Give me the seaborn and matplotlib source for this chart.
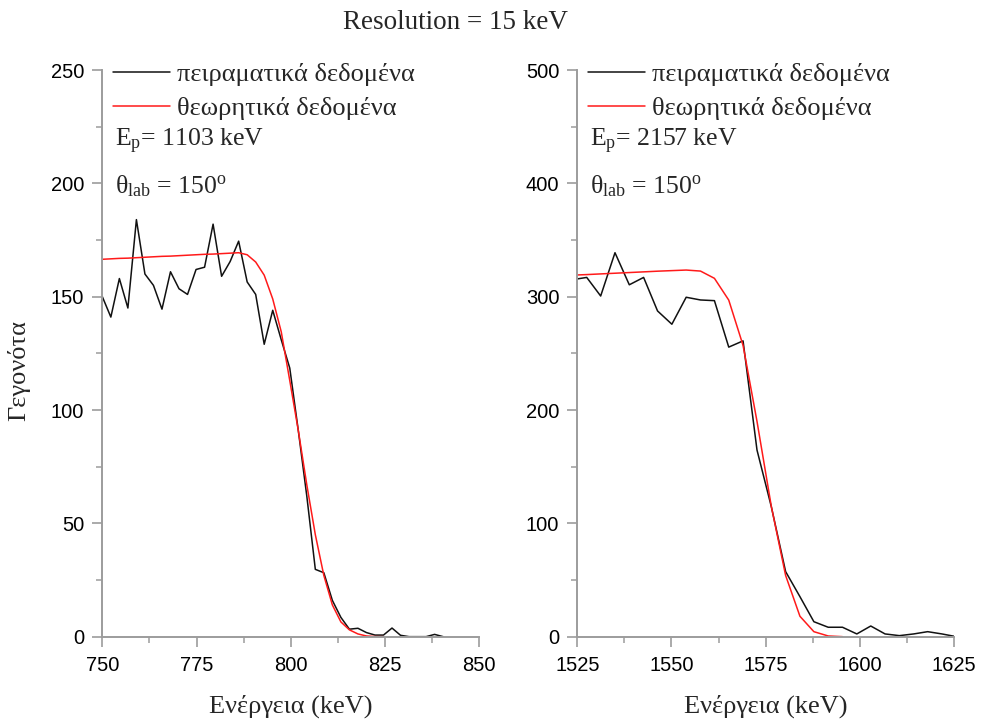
import matplotlib
matplotlib.use("Agg")
import matplotlib.pyplot as plt
import seaborn as sns
import pandas as pd
from matplotlib.ticker import AutoMinorLocator
from matplotlib.lines import Line2D

# ---------------- data ----------------
title_text = "Resolution = 15 keV"
legend_labels = ["πειραματικά δεδομένα", "θεωρητικά δεδομένα"]
x_label = "Ενέργεια (keV)"
y_label = "Γεγονότα"

# Left panel (Ep = 1103 keV)
left_exp_x = [750.0, 752.26, 754.52, 756.78, 759.04, 761.3, 763.56, 765.82, 768.08, 770.34,
              772.6, 774.86, 777.12, 779.38, 781.64, 783.9, 786.16, 788.42, 790.68, 792.94,
              795.2, 797.46, 799.72, 801.98, 804.24, 806.5, 808.76, 811.02, 813.28, 815.54,
              817.8, 820.06, 822.32, 824.58, 826.84, 829.1, 831.36, 833.62, 835.88, 838.14, 840.4]
left_exp_y = [150, 141, 158, 145, 184, 160, 155, 144.5, 161, 153.5,
              151, 162, 163, 182, 159, 165.5, 174.5, 156.5, 151, 129,
              144, 131, 118.5, 91, 62, 29.7, 28.2, 16, 8.5, 3.3,
              3.7, 1.8, 0.7, 0.7, 3.8, 0.6, 0, 0, 0, 1.0, 0]
left_th_x = [750.0, 752.26, 754.52, 756.78, 759.04, 761.3, 763.56, 765.82, 768.08, 770.34,
             772.6, 774.86, 777.12, 779.38, 781.64, 783.9, 786.16, 788.42, 790.68, 792.94,
             795.2, 797.46, 799.72, 801.98, 804.24, 806.5, 808.76, 811.02, 813.28, 815.54,
             817.8, 820.06, 822.32, 824.58]
left_th_y = [166.5, 166.7, 166.9, 167.0, 167.2, 167.4, 167.6, 167.8, 167.9, 168.1,
             168.3, 168.5, 168.7, 168.8, 169.0, 169.2, 169.4, 168.5, 165.3, 159.5,
             149, 134.5, 113, 91, 67, 45, 27, 14, 6.5, 3,
             1.2, 0.3, 0.05, 0]

# Right panel (Ep = 2157 keV)
right_exp_x = [1523.7, 1527.5, 1531.2, 1535.0, 1538.8, 1542.6, 1546.3, 1550.1, 1553.9, 1557.7,
               1561.4, 1565.2, 1569.0, 1572.7, 1576.5, 1580.3, 1584.1, 1587.8, 1591.6, 1595.4,
               1599.2, 1602.9, 1606.7, 1610.5, 1614.3, 1618.0, 1621.8, 1625.6]
right_exp_y = [315, 317, 300.6, 338.8, 310.5, 317, 287.4, 275.7, 299.5, 297.1,
               296.5, 255.5, 261, 164.7, 114.7, 57.4, 35.3, 13.2, 8.3, 8.3,
               2.4, 9.4, 2.4, 0.9, 2.4, 4.4, 2.4, 0]
right_th_x = [1523.7, 1527.5, 1531.2, 1535.0, 1538.8, 1542.6, 1546.3, 1550.1, 1553.9, 1557.7,
              1561.4, 1565.2, 1569.0, 1572.7, 1576.5, 1580.3, 1584.1, 1587.8, 1591.6, 1595.4]
right_th_y = [319, 319.5, 320.1, 320.7, 321.3, 321.9, 322.5, 323.0, 323.5, 322.6,
              316.2, 297, 257, 190, 115, 54, 18, 4.4, 0.6, 0]

left_xticks = [750, 775, 800, 825, 850]
left_yticks = [0, 50, 100, 150, 200, 250]
right_xticks = [1525, 1550, 1575, 1600, 1625]
right_yticks = [0, 100, 200, 300, 400, 500]

left_ep = r"$\mathrm{E_p}$= 1103 keV"
right_ep = r"$\mathrm{E_p}$= 2157 keV"
theta_txt = r"$\mathrm{θ_{lab}}$ = 150$^\mathrm{o}$"

# ---------------- style ----------------
sns.set_theme(style="white")
plt.rcParams["font.family"] = ["Liberation Sans", "DejaVu Sans"]
plt.rcParams["mathtext.fontset"] = "custom"
plt.rcParams["mathtext.rm"] = "Liberation Serif"
plt.rcParams["mathtext.it"] = "Liberation Serif:italic"
plt.rcParams["mathtext.bf"] = "Liberation Serif:bold"
SERIF = ["Liberation Serif", "DejaVu Serif"]
GRAY = "#9c9c9c"
RED = "#ff1a1a"
BLACK = "#111111"

fig = plt.figure(figsize=(9.83, 7.22), dpi=100)
ax1 = fig.add_axes([0.1041, 0.1182, 0.3835, 0.7848])
ax2 = fig.add_axes([0.5873, 0.1182, 0.3832, 0.7848])


def panel(ax, ex, ey, tx, ty, xticks, yticks, ep, show_ylabel):
    d_exp = pd.DataFrame({"E": ex, "N": ey})
    d_th = pd.DataFrame({"E": tx, "N": ty})
    sns.lineplot(data=d_exp, x="E", y="N", ax=ax, color=BLACK, lw=1.1, sort=False)
    sns.lineplot(data=d_th, x="E", y="N", ax=ax, color=RED, lw=1.1, sort=False)
    ax.set_xlim(xticks[0], xticks[-1])
    ax.set_ylim(yticks[0], yticks[-1])
    ax.set_xticks(xticks)
    ax.set_yticks(yticks)
    ax.xaxis.set_minor_locator(AutoMinorLocator(2))
    ax.yaxis.set_minor_locator(AutoMinorLocator(2))
    for s in ["top", "right"]:
        ax.spines[s].set_visible(False)
    for s in ["left", "bottom"]:
        ax.spines[s].set_color(GRAY)
        ax.spines[s].set_linewidth(1.4)
    ax.tick_params(which="major", direction="out", length=7.5, width=1.2, color=GRAY,
                   labelsize=14.5, labelcolor="black", bottom=True, left=True)
    ax.tick_params(axis="y", which="major", pad=5.5)
    ax.tick_params(axis="x", which="major", pad=6.5)
    ax.tick_params(which="minor", direction="out", length=4, width=1.1, color=GRAY,
                   bottom=True, left=True)
    ax.set_xlabel(x_label, family=SERIF, fontsize=19)
    ax.xaxis.set_label_coords(0.5, -0.103)
    if show_ylabel:
        ax.set_ylabel(y_label, family=SERIF, fontsize=19)
        ax.yaxis.set_label_coords(-0.19, 0.469)
    else:
        ax.set_ylabel("")
    handles = [Line2D([], [], color=BLACK, lw=1.1), Line2D([], [], color=RED, lw=1.1)]
    ax.legend(handles, legend_labels, loc="upper left", bbox_to_anchor=(0.029, 1.013),
              frameon=False, prop={"family": SERIF, "size": 19}, handlelength=2.15,
              handletextpad=0.25, labelspacing=0.4, borderpad=0, borderaxespad=0)
    ax.text(0.034, 0.8647, ep, transform=ax.transAxes, family=SERIF, fontsize=18.5,
            va="baseline", ha="left")
    ax.text(0.034, 0.7824, theta_txt, transform=ax.transAxes, family=SERIF, fontsize=18.5,
            va="baseline", ha="left")


panel(ax1, left_exp_x, left_exp_y, left_th_x, left_th_y, left_xticks, left_yticks, left_ep, True)
panel(ax2, right_exp_x, right_exp_y, right_th_x, right_th_y, right_xticks, right_yticks, right_ep, False)

fig.text(0.463, 0.9695, title_text, ha="center", va="center", family=SERIF, fontsize=19.5)

fig.savefig("out.png", dpi=100, facecolor="white")
